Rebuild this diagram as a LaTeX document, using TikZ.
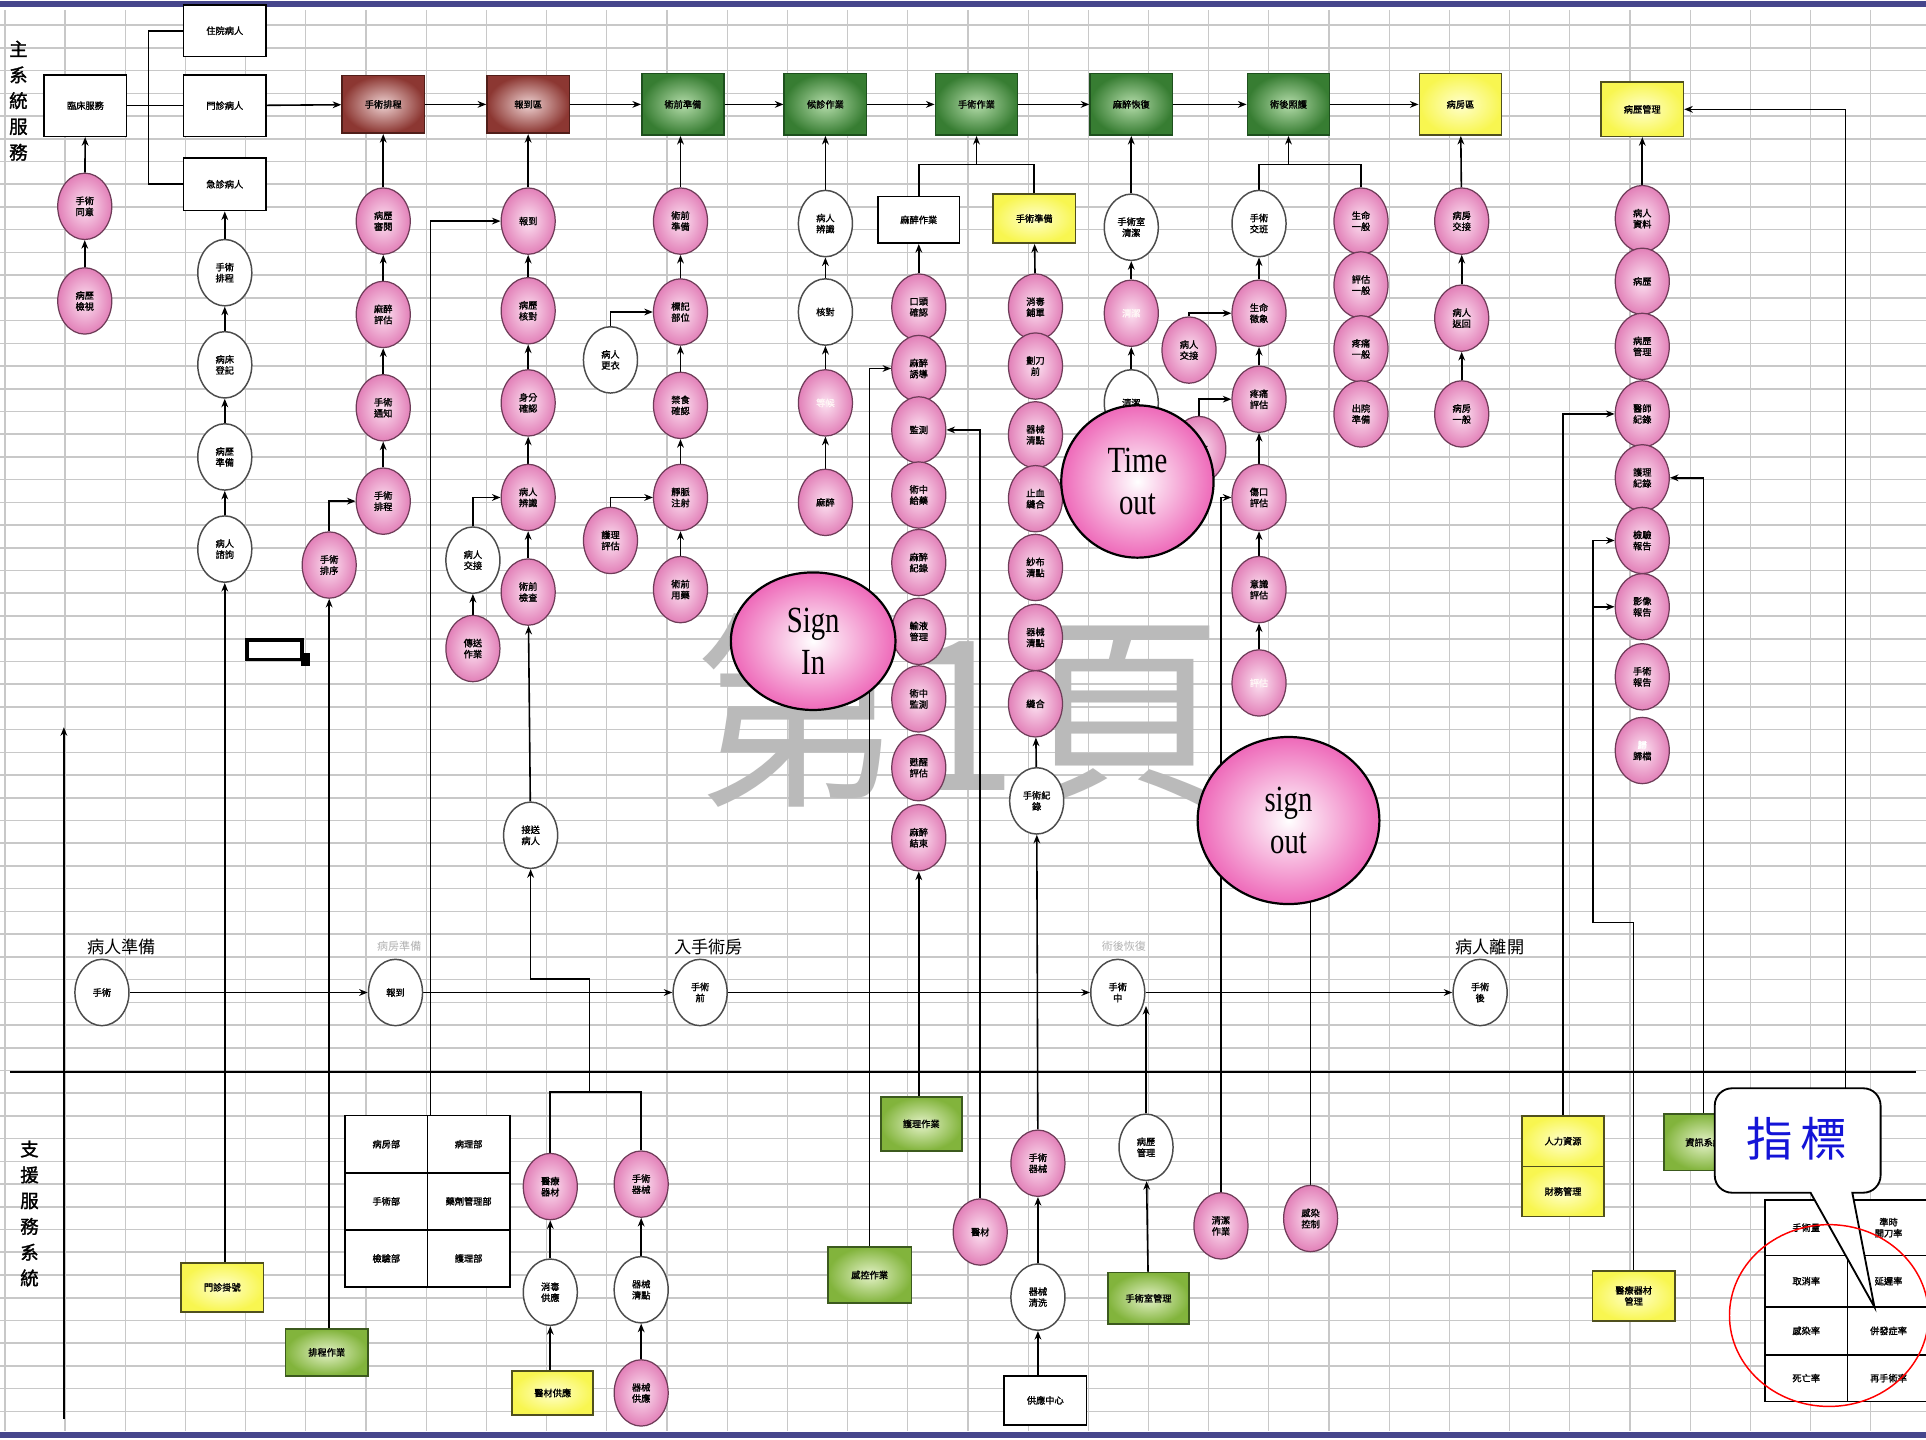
\documentclass[tikz,border=0pt]{standalone}
\usepackage{fontspec}
\usetikzlibrary{shapes.geometric,arrows.meta,calc}
\newfontfamily\cjk{Noto Sans CJK TC}
\newfontfamily\cjkb[FakeBold=1.5]{Noto Sans CJK TC}
\newfontfamily\lser{Liberation Serif}
\newcommand\narrowtext[1]{\scalebox{0.78}[1]{#1}}
\pgfdeclarelayer{gridlayer}
\pgfdeclarelayer{edgelayer}
\pgfsetlayers{gridlayer,edgelayer,main}
\definecolor{pkout}{RGB}{226,128,184}
\definecolor{pkin}{RGB}{252,226,241}
\definecolor{pkb}{RGB}{110,60,88}
\definecolor{bigout}{RGB}{238,105,185}
\definecolor{gout}{RGB}{55,125,50}
\definecolor{gin}{RGB}{180,220,170}
\definecolor{gbd}{RGB}{30,80,30}
\definecolor{lgout}{RGB}{130,180,60}
\definecolor{lgin}{RGB}{228,242,200}
\definecolor{lgbd}{RGB}{60,90,30}
\definecolor{brout}{RGB}{140,55,50}
\definecolor{brin}{RGB}{238,210,210}
\definecolor{brbd}{RGB}{80,30,25}
\definecolor{yel}{RGB}{248,246,80}
\definecolor{yelin}{RGB}{255,255,205}
\definecolor{ybd}{RGB}{80,80,30}
\definecolor{topblue}{RGB}{70,70,140}
\definecolor{gridc}{RGB}{200,200,200}
\tikzset{
  arr/.style={-{Stealth[length=7pt,width=5.5pt]}, line width=1.3pt, black},
  ln/.style={line width=1.3pt, black},
  ntxt/.style={font=\cjkb\fontsize{7.5}{9}\selectfont},
  pk/.style={ellipse, draw=pkb, line width=1pt, inner color=pkin, outer color=pkout, minimum width=44pt, minimum height=54pt, inner sep=0pt, align=center, ntxt},
  wh/.style={ellipse, draw=black!70, line width=1.2pt, fill=white, minimum width=44pt, minimum height=54pt, inner sep=0pt, align=center, ntxt},
  bx/.style={rectangle, draw=black, line width=1.3pt, fill=white, minimum width=67pt, minimum height=50pt, inner sep=1pt, align=center, ntxt},
  gbx/.style={bx, draw=gbd, inner color=gin, outer color=gout},
  lgbx/.style={bx, draw=lgbd, inner color=lgin, outer color=lgout, minimum height=42pt},
  brbx/.style={bx, draw=brbd, inner color=brin, outer color=brout, minimum height=47pt},
  ybx/.style={bx, draw=ybd, inner color=yelin, outer color=yel},
  cell/.style={rectangle, draw=black, line width=1.3pt, fill=white, minimum width=67pt, minimum height=46.5pt, inner sep=0pt, align=center, ntxt},
  big/.style={ellipse, draw=black, line width=1.8pt, inner color=white, outer color=bigout, inner sep=0pt, align=center, font=\lser\fontsize{30}{34}\selectfont},
  lab/.style={font=\cjk\fontsize{14}{16}\selectfont, inner sep=0pt},
  flab/.style={font=\cjk\fontsize{9}{10}\selectfont, text=black!30, inner sep=0pt},
  faint/.style={text=white!85!pink},
}
\begin{document}
\begin{tikzpicture}[x=1pt,y=-1pt]
\useasboundingbox (0,0) rectangle (1568,1172);

% ---------- background, grid, frame lines, watermark ----------
\begin{pgfonlayer}{gridlayer}
\fill[white] (0,0) rectangle (1568,1172);
\foreach \gx in {4,53,...,1568} \draw[gridc, line width=1pt] (\gx,8) -- (\gx,1165);
\foreach \gy in {20.5,39,...,1165} \draw[gridc, line width=1.3pt] (0,\gy) -- (1568,\gy);
\fill[topblue] (0,1) rectangle (1568,6);
\fill[topblue] (0,1166) rectangle (1568,1171);
\node[font=\cjk\fontsize{170}{170}\selectfont, text=black!27, inner sep=0pt] (wmark) at (782,578) {第1頁};
\end{pgfonlayer}

% ---------- side labels ----------
\node[font=\cjkb\fontsize{15}{21}\selectfont, align=center, inner sep=0pt] (side1) at (15,82) {主\\系\\統\\服\\務};
\node[font=\cjkb\fontsize{15}{21}\selectfont, align=center, inner sep=0pt] (side2) at (24,988) {支\\援\\服\\務\\系\\統};
\coordinate (la0) at (52,1155);
\coordinate (la1) at (52,592);
\coordinate (sep0) at (8,873);
\coordinate (sep1) at (1560,873);

% ---------- top row ----------
\node[bx] (box1) at (69.5,86) {臨床服務};
\node[bx, minimum height=42pt] (st1) at (183,25) {住院病人};
\node[bx] (st2) at (183,86) {門診病人};
\node[bx, minimum height=43pt] (st3) at (183,150) {急診病人};
\node[brbx] (br1) at (312,85) {手術排程};
\node[brbx] (br2) at (430,85) {報到區};
\node[gbx] (g1) at (556,85) {術前準備};
\node[gbx] (g2) at (672,85) {候診作業};
\node[gbx] (g3) at (795,85) {手術作業};
\node[gbx] (g4) at (921,85) {麻醉恢復};
\node[gbx] (g5) at (1049,85) {術後照護};
\node[ybx] (y1) at (1189,85) {病房區};
\node[ybx, minimum height=44pt] (y2) at (1337,89) {病歷管理};

% column A
\node[pk] (a1) at (69,168) {手術\\同意};
\node[pk] (a2) at (69,245) {病歷\\檢視};
% column B
\node[wh] (b1) at (183,222) {手術\\排程};
\node[wh] (b2) at (183,297) {病床\\登記};
\node[wh] (b3) at (183,372) {病歷\\準備};
\node[wh] (b4) at (183,447) {病人\\諮詢};
\node[ybx, minimum height=40pt] (yb1) at (181,1048) {門診掛號};
% column C
\node[pk] (c1) at (312,180) {病歷\\審閱};
\node[pk] (c2) at (312,256) {麻醉\\評估};
\node[pk] (c3) at (312,332) {手術\\通知};
\node[pk] (c4) at (312,408) {手術\\排程};
\node[pk] (c5) at (268,460) {手術\\排序};
\node[lgbx, minimum height=38pt] (gb1) at (266,1101) {排程作業};
% column D
\node[pk] (d1) at (430,180) {報到};
\node[pk] (d2) at (430,253) {病歷\\核對};
\node[pk] (d3) at (430,328) {身分\\確認};
\node[pk] (d4) at (430,405) {病人\\辨識};
\node[pk] (d5) at (430,482) {術前\\檢查};
\node[wh] (d6) at (432,680) {接送\\病人};
\node[wh] (dx) at (385,456) {病人\\交接};
\node[pk] (dp) at (385,528) {傳送\\作業};
% table
\node[cell] (tc11) at (314.5,931.5) {病房部};
\node[cell] (tc12) at (381.5,931.5) {病理部};
\node[cell] (tc21) at (314.5,978) {手術部};
\node[cell] (tc22) at (381.5,978) {藥劑管理部};
\node[cell] (tc31) at (314.5,1024.5) {檢驗部};
\node[cell] (tc32) at (381.5,1024.5) {護理部};
% lower tree
\node[pk] (bp1) at (448,966) {醫療\\器材};
\node[pk] (bp2) at (522,964) {手術\\器械};
\node[wh] (bw1) at (448,1052) {消毒\\供應};
\node[wh] (bw2) at (522,1050) {器械\\清點};
\node[ybx, minimum height=36pt, minimum width=66pt] (yb2) at (450,1134) {醫材供應};
\node[pk] (bp3) at (522,1134) {器械\\供應};
\coordinate (t1) at (480,889);
\coordinate (t2) at (480,797);
% column E
\node[pk] (e1) at (554,180) {術前\\準備};
\node[pk] (e2) at (554,254) {標記\\部位};
\node[pk] (e3) at (554,330) {禁食\\確認};
\node[pk] (e4) at (554,405) {靜脈\\注射};
\node[pk] (e5) at (554,480) {術前\\用藥};
\node[wh] (ew) at (497,293) {病人\\更衣};
\node[pk] (ep) at (497,440) {護理\\評估};
% column F
\node[wh] (f1) at (672,182) {病人\\辨識};
\node[wh] (f2) at (672,254) {核對};
\node[pk, faint] (f3) at (672,328) {等候};
\node[pk] (f4) at (672,409) {麻醉};
% column G
\node[bx, minimum height=38pt, minimum width=66pt] (gw) at (748,179) {麻醉作業};
\node[ybx, minimum height=40pt] (gy) at (842,178) {手術準備};
\coordinate (gj) at (795,134);
\node[pk] (gc1) at (748,250) {口頭\\確認};
\node[pk] (gc2) at (748,300) {麻醉\\誘導};
\node[pk] (gc3) at (748,350) {監測};
\node[pk] (gc4) at (748,403) {術中\\給藥};
\node[pk] (gc5) at (748,458) {麻醉\\紀錄};
\node[pk] (gc6) at (748,514) {輸液\\管理};
\node[pk] (gc7) at (748,569) {術中\\監測};
\node[pk] (gc8) at (748,625) {甦醒\\評估};
\node[pk] (gc9) at (748,682) {麻醉\\結束};
\node[lgbx, minimum height=44pt, minimum width=66pt] (gb2) at (750,915) {護理作業};
\node[lgbx, minimum height=46pt, minimum width=68pt] (gb3) at (708,1038) {感控作業};
\node[pk] (pm) at (798,1003) {醫材};
\node[pk] (gq1) at (843,250) {消毒\\鋪單};
\node[pk] (gq2) at (843,298) {劃刀\\前};
\node[pk] (gq3) at (843,354) {器械\\清點};
\node[pk] (gq4) at (843,406) {止血\\縫合};
\node[pk] (gq5) at (843,462) {紗布\\清點};
\node[pk] (gq6) at (843,519) {器械\\清點};
\node[pk] (gq7) at (843,573) {縫合};
\node[wh] (gqw) at (844,652) {手術紀\\錄};
\node[pk] (gqp) at (845,947) {手術\\器械};
\node[wh] (gqw2) at (845,1056) {器械\\清洗};
\node[bx, minimum height=40pt] (gbox) at (851,1140) {供應中心};
% column H
\node[wh] (h1) at (921,185) {手術室\\清潔};
\node[pk, faint] (h2) at (921,255) {清潔};
\node[wh] (h3) at (921,328) {清潔};
\node[pk] (jp) at (968,285) {病人\\交接};
\node[pk] (hp) at (976,366) {交班};
% column I, J
\coordinate (ij) at (1049,134);
\node[wh] (i1) at (1025,182) {手術\\交班};
\node[pk] (i2) at (1025,255) {生命\\徵象};
\node[pk] (i3) at (1025,325) {疼痛\\評估};
\node[pk] (i4) at (1025,405) {傷口\\評估};
\node[pk] (i5) at (1025,480) {意識\\評估};
\node[pk, faint] (i6) at (1025,556) {評估};
\node[pk] (jc1) at (1108,180) {生命\\一般};
\node[pk] (jc2) at (1108,232) {評估\\一般};
\node[pk] (jc3) at (1108,284) {疼痛\\一般};
\node[pk] (jc4) at (1108,337) {出院\\準備};
% column K
\node[pk] (k1) at (1190,180) {病房\\交接};
\node[pk] (k2) at (1190,259) {病人\\返回};
\node[pk] (k3) at (1190,337) {病房\\一般};
% column L
\node[pk] (l1) at (1337,178) {病人\\資料};
\node[pk] (l2) at (1337,229) {病歷};
\node[pk] (l3) at (1337,282) {病歷\\管理};
\node[pk] (l4) at (1337,337) {醫師\\紀錄};
\node[pk] (l5) at (1337,389) {護理\\紀錄};
\node[pk] (l6) at (1337,440) {檢驗\\報告};
\node[pk] (l7) at (1337,494) {影像\\報告};
\node[pk] (l8) at (1337,551) {手術\\報告};
\node[pk] (l9) at (1337,611) {\textcolor{white}{歸}\\歸檔};
% bottom row
\node[wh] (w0) at (83,808) {手術};
\node[wh] (w1) at (322,808) {報到};
\node[wh] (w2) at (570,808) {手術\\前};
\node[wh] (w3) at (910,808) {手術\\中};
\node[wh] (w4) at (1205,808) {手術\\後};
\node[lab] (lab0) at (99,771) {病人準備};
\node[flab] (lab1) at (325,770) {病房準備};
\node[lab] (lab2) at (577,771) {入手術房};
\node[flab] (lab3) at (915,770) {術後恢復};
\node[lab] (lab4) at (1213,771) {病人離開};
\node[wh] (wm) at (933,934) {病歷\\管理};
\node[lgbx, minimum width=66pt] (gm) at (935,1057) {手術室管理};
\node[pk] (p994) at (994,998) {清潔\\作業};
\node[pk] (p1067) at (1067,992) {感染\\控制};
\coordinate (soend) at (1067,690);
\node[ybx, minimum height=41pt] (ys1) at (1272.5,929) {人力資源};
\node[ybx, minimum height=41pt] (ys2) at (1272.5,970) {財務管理};
\node[ybx, minimum height=41pt] (ybm) at (1330,1055) {醫療器材\\管理};
\node[lgbx, minimum height=46pt, minimum width=65pt] (gr) at (1387,930) {資訊系統};
\coordinate (lk) at (1297,751);
% indicator table
\node[cell, minimum height=45pt] (it11) at (1470.5,999.5) {手術量};
\node[cell, minimum height=45pt] (it12) at (1537.5,999.5) {準時\\開刀率};
\node[cell, minimum height=42pt] (it21) at (1470.5,1043) {取消率};
\node[cell, minimum height=42pt] (it22) at (1537.5,1043) {延遲率};
\node[cell, minimum height=39pt] (it31) at (1470.5,1083.5) {感染率};
\node[cell, minimum height=39pt] (it32) at (1537.5,1083.5) {併發症率};
\node[cell, minimum height=38pt] (it41) at (1470.5,1122) {死亡率};
\node[cell, minimum height=38pt] (it42) at (1537.5,1122) {再手術率};

% small black mark
\draw[line width=3pt] (201,521) rectangle (246,537);
\fill (245,532) rectangle (252,542);

% ---------- connectors ----------
\begin{pgfonlayer}{edgelayer}
\draw[arr] (la0) -- (la1);
\draw[line width=1.5pt] (sep0) -- (sep1);
\coordinate (j1) at (121,86);
\draw[ln] (box1.east) -- (j1) -- (st2.west);
\draw[ln] (st1.west) -| (j1);
\draw[ln] (st3.west) -| (j1);
\draw[arr] (st2) -- (br1);
\draw[arr] (br1) -- (br2);
\draw[arr] (br2) -- (g1);
\draw[arr] (g1) -- (g2);
\draw[arr] (g2) -- (g3);
\draw[arr] (g3) -- (g4);
\draw[arr] (g4) -- (g5);
\draw[arr] (g5) -- (y1);
% A
\draw[arr] (a2) -- (a1);
\draw[arr] (a1) -- (box1);
% B
\draw[arr] (b4.south |- yb1.north) -- (b4.south);
\draw[arr] (b4) -- (b3);
\draw[arr] (b3) -- (b2);
\draw[arr] (b2) -- (b1);
\draw[arr] (b1) -- (st3);
% C
\draw[arr] (c5.south |- gb1.north) -- (c5.south);
\draw[arr] (c5.north) |- (c4.west);
\draw[arr] (c4) -- (c3);
\draw[arr] (c3) -- (c2);
\draw[arr] (c2) -- (c1);
\draw[arr] (c1) -- (br1);
% D
\draw[arr] ([xshift=3pt]tc12.north west) |- (d1.west);
\draw[arr] (d6) -- (d5);
\draw[arr] (d5) -- (d4);
\draw[arr] (d4) -- (d3);
\draw[arr] (d3) -- (d2);
\draw[arr] (d2) -- (d1);
\draw[arr] (d1) -- (br2);
\draw[arr] (dx.north) |- (d4.west);
\draw[arr] (dp) -- (dx);
\draw[arr] (bp1.north) |- (t1) -- (t2) -| (d6.south);
\draw[ln] (bp2.north) |- (t1);
\draw[arr] (yb2.north -| bw1.south) -- (bw1);
\draw[arr] (bw1) -- (bp1);
\draw[arr] (bp3) -- (bw2);
\draw[arr] (bw2) -- (bp2);
% E
\draw[arr] (e5) -- (e4);
\draw[arr] (e4) -- (e3);
\draw[arr] (e3) -- (e2);
\draw[arr] (e2) -- (e1);
\draw[arr] (e1) -- (g1.south -| e1.north);
\draw[arr] (ew.north) |- (e2.west);
\draw[arr] (ep.north) |- (e4.west);
% F
\draw[arr] (f4) -- (f3);
\draw[arr] (f3) -- (f2);
\draw[arr] (f2) -- (f1);
\draw[arr] (f1) -- (g2);
% G
\draw[ln] (gw.north) |- (gj) -| (gy.north);
\draw[arr] (gj) -- (g3.south);
\draw[arr] (gc1) -- (gw);
\draw[arr] (gc9.south |- gb2.north) -- (gc9.south);
\draw[arr] (gb3.north) |- (gc2.west);
\draw[arr] (pm.north) |- (gc3.east);
\draw[arr] (gq1) -- (gy);
\draw[arr] (gqw) -- (gq7);
\draw[arr] (gqp) -- (gqw);
\draw[arr] (gqw2) -- (gqp);
\draw[arr] (gqw2.south |- gbox.north) -- (gqw2.south);
% H
\draw[arr] (h3) -- (h2);
\draw[arr] (h2) -- (h1);
\draw[arr] (h1) -- (g4);
% I, J
\draw[ln] (i1.north) |- (ij) -| (jc1.north);
\draw[arr] (ij) -- (g5.south);
\draw[arr] (i6) -- (i5);
\draw[arr] (i5) -- (i4);
\draw[arr] (i4) -- (i3);
\draw[arr] (i3) -- (i2);
\draw[arr] (i2) -- (i1);
\draw[arr] (jp.north) |- (i2.west);
\draw[arr] (hp.north) |- (i3.west);
\draw[arr] (p994.north) |- (i4.west);
\draw[ln] (p1067.north) -- (soend);
% K
\draw[arr] (k3) -- (k2);
\draw[arr] (k2) -- (k1);
\draw[arr] (k1) -- (y1);
% L
\draw[arr] (l1) -- (y2);
\draw[arr] (ys1.north) |- (l4.west);
\draw[arr] (ybm.north) |- (lk) |- (l6.west);
\draw[arr] (lk |- l7.west) -- (l7.west);
\draw[arr] (gr.north) |- (l5.east);
\draw[arr] ([xshift=-1pt]it12.north west) |- (y2.east);
% bottom row
\draw[arr] (w0) -- (w1);
\draw[arr] (w1) -- (w2);
\draw[arr] (w2) -- (w3);
\draw[arr] (w3) -- (w4);
\draw[arr] (wm.north) -- ($(wm.north |- w3.center)+(0,11)$);
\draw[arr] (gm) -- (wm);
\end{pgfonlayer}

% ---------- overlays ----------
\node[big, minimum width=134pt, minimum height=112pt] (signin) at (662,522) {\narrowtext{Sign}\\\narrowtext{In}};
\node[big, minimum width=124pt, minimum height=124pt] (timeout) at (926,392) {\narrowtext{Time}\\\narrowtext{out}};
\node[big, minimum width=148pt, minimum height=136pt] (signout) at (1049,668) {\narrowtext{sign}\\\narrowtext{out}};

% callout
\draw[line width=1.5pt, fill=white] (1474,971) -- (1526,1064) -- (1508,971) [rounded corners=14pt] -- (1531,971) -- (1531,886) -- (1396,886) -- (1396,971) [sharp corners] -- cycle;
\node[font=\cjk\fontsize{38}{40}\selectfont, text={rgb,255:red,20;green,20;blue,215}, inner sep=0pt] (callout) at (1463,927) {指\,標};
\coordinate (rc) at (1489,1071);
\draw[red, line width=1.2pt] (rc) ellipse [x radius=81, y radius=74];
\end{tikzpicture}
\end{document}
